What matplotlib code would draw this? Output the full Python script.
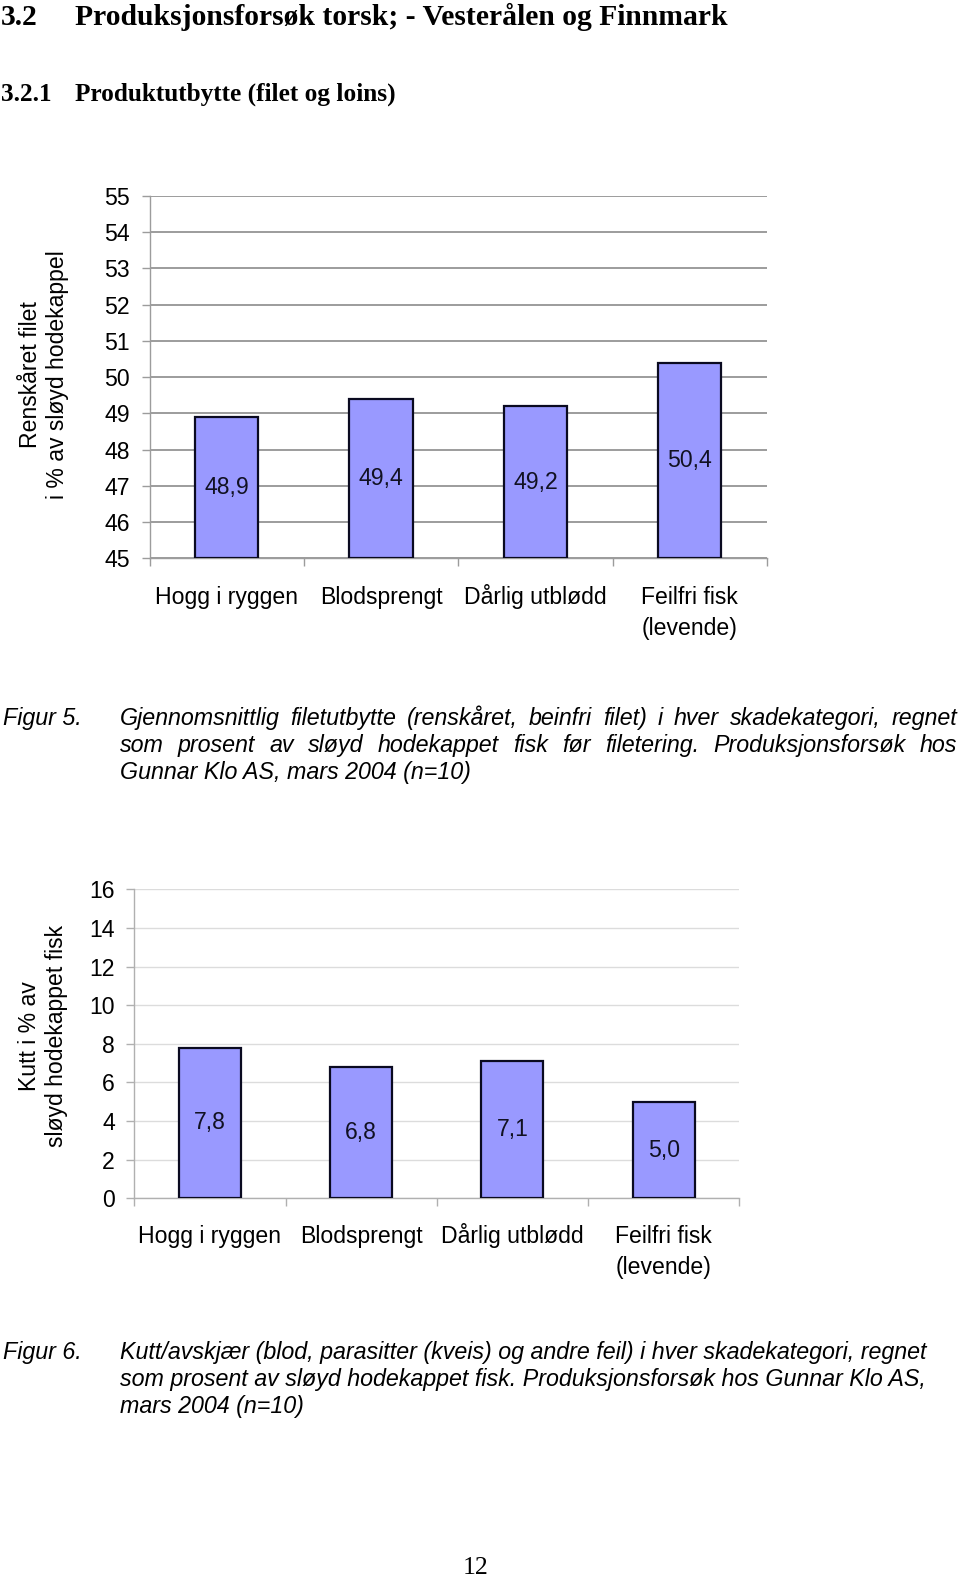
import matplotlib
matplotlib.use("Agg")
import matplotlib.pyplot as plt
from matplotlib.ticker import FixedLocator, NullFormatter, NullLocator
from matplotlib.transforms import offset_copy

# ---------------- data ----------------
categories = ["Hogg i ryggen", "Blodsprengt", "Dårlig utblødd", "Feilfri fisk\n(levende)"]
yield_values = [48.9, 49.4, 49.2, 50.4]
cut_values = [7.8, 6.8, 7.1, 5.0]
yield_ticks = list(range(45, 56, 1))
cut_ticks = list(range(0, 17, 2))

heading1_num = "3.2"
heading1 = "Produksjonsforsøk torsk; - Vesterålen og Finnmark"
heading2_num = "3.2.1"
heading2 = "Produktutbytte (filet og loins)"
ylabel1 = "Renskåret filet\ni % av sløyd hodekappel"
ylabel2 = "Kutt i % av\nsløyd hodekappet fisk"
fig5_label = "Figur 5."
fig5_lines = ["Gjennomsnittlig filetutbytte (renskåret, beinfri filet) i hver skadekategori, regnet",
              "som prosent av sløyd hodekappet fisk før filetering. Produksjonsforsøk hos",
              "Gunnar Klo AS, mars 2004 (n=10)"]
fig6_label = "Figur 6."
fig6_lines = ["Kutt/avskjær (blod, parasitter (kveis) og andre feil) i hver skadekategori, regnet",
              "som prosent av sløyd hodekappet fisk. Produksjonsforsøk hos Gunnar Klo AS,",
              "mars 2004 (n=10)"]
page_number = "12"

# ---------------- layout ----------------
W, H = 960, 1576
DPI = 100
fig = plt.figure(figsize=(W / DPI, H / DPI), dpi=DPI)
fig.patch.set_facecolor("white")

SANS = ["Liberation Sans", "DejaVu Sans"]
SERIF = ["Liberation Serif", "DejaVu Serif"]
BAR = "#9999ff"
EDGE = "#0a0a20"
FS = 16.6


def px_axes(left, top, right, bottom):
    return fig.add_axes([left / W, 1 - bottom / H, (right - left) / W, (bottom - top) / H])


def T(x, y, s, **kw):
    return fig.text(x / W, 1 - y / H, s, **kw)


def bar_chart(ax, values, ticks, gridcolor, gridlw, spinecolor, label_offsets):
    n = len(categories)
    ymin, ymax = ticks[0], ticks[-1]
    xs = list(range(n))
    ax.set_xlim(-0.5, n - 0.5)
    ax.set_ylim(ymin, ymax)
    ax.set_axisbelow(True)
    ax.bar(xs, [v - ymin for v in values], bottom=ymin, width=0.41,
           color=BAR, edgecolor=EDGE, linewidth=1.6, zorder=3)
    for x, v in zip(xs, values):
        ax.text(x, (ymin + v) / 2, f"{v:.1f}".replace(".", ","), ha="center", va="center",
                fontsize=FS, family=SANS, color="#111122", zorder=4)
    ax.set_yticks(ticks)
    ax.set_yticklabels([str(t) for t in ticks], family=SANS, fontsize=FS)
    ax.yaxis.grid(True, color=gridcolor, linewidth=gridlw)
    # category labels, each line on its own baseline below the axis
    ax.xaxis.set_major_locator(NullLocator())
    base = ax.get_xaxis_transform()
    for x, cat in zip(xs, categories):
        for i, line in enumerate(cat.split("\n")):
            tr = offset_copy(base, fig=fig, x=0, y=-label_offsets[i], units="dots")
            ax.text(x, 0, line, transform=tr, ha="center", va="baseline",
                    fontsize=FS, family=SANS, clip_on=False)
    ax.xaxis.set_minor_locator(FixedLocator([x - 0.5 for x in xs] + [n - 0.5]))
    ax.xaxis.set_minor_formatter(NullFormatter())
    ax.tick_params(axis="x", which="minor", length=6, color=spinecolor, width=1)
    ax.tick_params(axis="y", length=6, color=spinecolor, width=1, pad=8)
    for s in ("top", "right"):
        ax.spines[s].set_visible(False)
    for s in ("left", "bottom"):
        ax.spines[s].set_color(spinecolor)
        ax.spines[s].set_linewidth(1.0)


ax1 = px_axes(149.5, 196, 767, 558.3)
bar_chart(ax1, yield_values, yield_ticks, "#9c9c9c", 1.4, "#9c9c9c", (45.5, 77))

ax2 = px_axes(134.3, 889.3, 739.3, 1198.3)
bar_chart(ax2, cut_values, cut_ticks, "#dcdcdc", 1.0, "#b0b0b0", (44.5, 75.5))

# y-axis titles
T(44, 375, ylabel1, rotation=90, ha="center", va="center", multialignment="center",
  fontsize=FS, family=SANS, linespacing=1.25)
T(43, 1036, ylabel2, rotation=90, ha="center", va="center", multialignment="center",
  fontsize=FS, family=SANS, linespacing=1.2)

# headings
T(1, 25, heading1_num, fontsize=21.35, family=SERIF, weight="bold", va="baseline")
T(75, 25, heading1, fontsize=21.35, family=SERIF, weight="bold", va="baseline")
T(1, 101, heading2_num, fontsize=18.2, family=SERIF, weight="bold", va="baseline")
T(75, 101, heading2, fontsize=18.2, family=SERIF, weight="bold", va="baseline")

renderer = fig.canvas.get_renderer()
CAP = dict(fontsize=16.75, family=SANS, style="italic", va="baseline")


def justified_line(x0, x1, y, text):
    words = text.split()
    arts = [T(0, y, w, **CAP) for w in words]
    widths = [a.get_window_extent(renderer).width for a in arts]
    gap = (x1 - x0 - sum(widths)) / (len(words) - 1)
    x = x0
    for a, w in zip(arts, widths):
        a.set_x(x / W)
        x += w + gap


def caption(label, lines, y0, justify):
    T(3, y0, label, **CAP)
    for i, line in enumerate(lines):
        y = y0 + 27 * i
        if justify and i < len(lines) - 1:
            justified_line(120, 957, y, line)
        else:
            T(120, y, line, **CAP)


caption(fig5_label, fig5_lines, 725, True)
caption(fig6_label, fig6_lines, 1359, False)

T(476, 1574, page_number, fontsize=18.5, family=SERIF, ha="center", va="baseline")

fig.savefig("out.png", dpi=DPI, facecolor="white")
